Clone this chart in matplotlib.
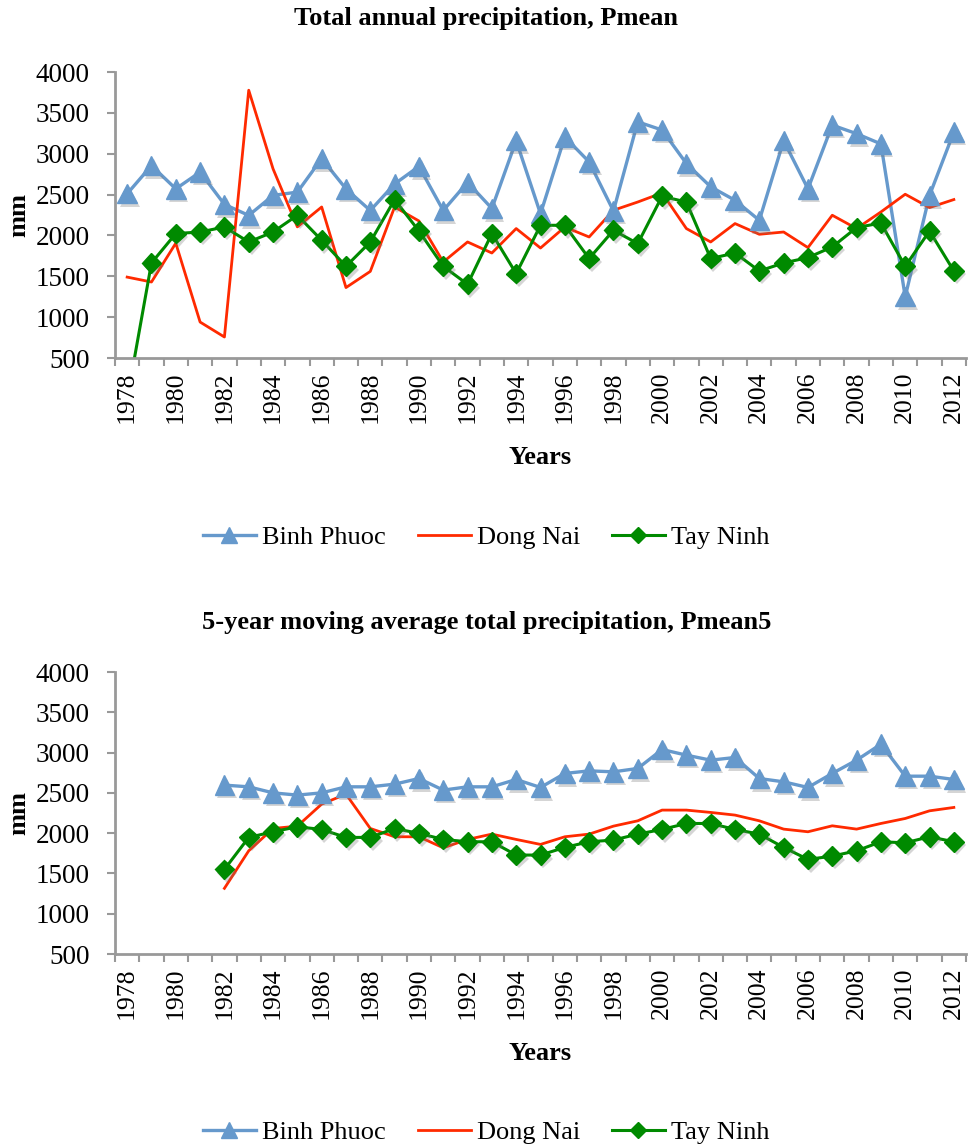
import numpy as np
import matplotlib
matplotlib.use("Agg")
import matplotlib.pyplot as plt
import matplotlib.patheffects as pe
from matplotlib.lines import Line2D

plt.rcParams['font.family'] = ['Liberation Serif', 'DejaVu Serif']

years = list(range(1978, 2013))

# total annual precipitation (mm)
binh_phuoc = [2510, 2855, 2570, 2775, 2380, 2245, 2490, 2530, 2940, 2570,
              2305, 2630, 2845, 2305, 2650, 2330, 3160, 2265, 3205, 2900,
              2300, 3390, 3290, 2880, 2595, 2430, 2185, 3160, 2570, 3350,
              3245, 3120, 1250, 2490, 3265]
dong_nai = [1490, 1430, 1905, 940, 757, 3777, 2815, 2105, 2348, 1362,
            1560, 2348, 2177, 1675, 1920, 1785, 2084, 1846, 2103, 1981,
            2308, 2409, 2520, 2084, 1920, 2145, 2014, 2042, 1851, 2247,
            2084, 2287, 2504, 2341, 2439]
tay_ninh = [0, 1663, 2023, 2042, 2103, 1920, 2042, 2247, 1941, 1622,
            1920, 2439, 2054, 1622, 1402, 2023, 1533, 2124, 2124, 1717,
            2063, 1900, 2479, 2409, 1717, 1785, 1565, 1663, 1729, 1859,
            2096, 2152, 1622, 2054, 1565]

# 5-year moving average (starts 1982)
years5 = list(range(1982, 2013))
binh_phuoc5 = [2596, 2575, 2500, 2472, 2500, 2575, 2575, 2608, 2678, 2534,
               2575, 2575, 2666, 2567, 2741, 2773, 2761, 2803, 3038, 2968,
               2906, 2939, 2678, 2637, 2567, 2741, 2906, 3104, 2707, 2707,
               2666]
dong_nai5 = [1315, 1781, 2058, 2087, 2360, 2484, 2058, 1955, 1955, 1818,
             1922, 1988, 1922, 1860, 1955, 1988, 2087, 2153, 2286, 2286,
             2257, 2224, 2153, 2050, 2017, 2091, 2050, 2120, 2182, 2277,
             2319]
tay_ninh5 = [1550, 1947, 2017, 2079, 2046, 1947, 1947, 2058, 1997, 1922,
             1893, 1893, 1728, 1728, 1823, 1893, 1914, 1988, 2046, 2120,
             2120, 2046, 1988, 1823, 1674, 1715, 1781, 1893, 1880, 1955,
             1893]

names = ['Binh Phuoc', 'Dong Nai', 'Tay Ninh']
titles = ['Total annual precipitation, Pmean',
          '5-year moving average total precipitation, Pmean5']

blue = '#6699cc'
red = '#ff2a00'
green = '#008a00'
grey = '#999999'

W, H = 973, 1146
fig = plt.figure(figsize=(W / 100, H / 100), dpi=100)

def px_axes(x0, y0, x1, y1):
    return fig.add_axes([x0 / W, 1 - y1 / H, (x1 - x0) / W, (y1 - y0) / H])

ax1 = px_axes(115, 72, 966, 358)
ax2 = px_axes(115, 672, 966, 954)

shadow = [pe.SimplePatchShadow(offset=(2, -2.5), shadow_rgbFace='#777777',
                               alpha=0.3), pe.Normal()]

def draw(ax, yrs, bp, dn, tn):
    idx = [years.index(y) for y in yrs]
    ax.plot(idx, bp, color=blue, lw=2.4, zorder=2)
    ax.plot(idx, bp, ls='none', marker='^', ms=14, color=blue, mec=blue,
            path_effects=shadow, zorder=3)
    ax.plot(idx, dn, color=red, lw=2.0, zorder=2)
    ax.plot(idx, tn, color=green, lw=2.2, zorder=2)
    ax.plot(idx, tn, ls='none', marker='D', ms=10, color=green, mec=green,
            path_effects=shadow, zorder=3)
    ax.set_xlim(-0.5, len(years) - 0.5)
    ax.set_ylim(500, 4000)
    ax.set_yticks(np.arange(500, 4001, 500))
    ax.tick_params(axis='y', length=6, width=1.5, color=grey, labelsize=19.5,
                   pad=12)
    # boundaries between categories carry the ticks
    ax.set_xticks(np.arange(-0.5, len(years), 1))
    ax.set_xticklabels([])
    ax.tick_params(axis='x', which='major', length=6, width=1.5, color=grey)
    ax.set_xticks(np.arange(0, len(years), 2), minor=True)
    ax.set_xticklabels([str(y) for y in years[::2]], minor=True,
                       rotation=90, fontsize=18.5)
    ax.tick_params(axis='x', which='minor', length=0, pad=10)
    for s in ['top', 'right']:
        ax.spines[s].set_visible(False)
    for s in ['left', 'bottom']:
        ax.spines[s].set_color(grey)
        ax.spines[s].set_linewidth(2)
    ax.set_ylabel('mm', fontsize=19, fontweight='bold', labelpad=4)
    ax.set_xlabel('Years', fontsize=19, fontweight='bold', labelpad=16)

draw(ax1, years, binh_phuoc, dong_nai, tay_ninh)
draw(ax2, years5, binh_phuoc5, dong_nai5, tay_ninh5)

fig.text(0.5, 1 - 18 / H, titles[0], ha='center', va='center',
         fontsize=19, fontweight='bold')
fig.text(0.5, 1 - 622 / H, titles[1], ha='center', va='center',
         fontsize=19, fontweight='bold')

handles = [Line2D([], [], color=blue, lw=2.4, marker='^', ms=12),
           Line2D([], [], color=red, lw=2.0),
           Line2D([], [], color=green, lw=2.2, marker='D', ms=8)]
for yc in [537, 1132]:
    fig.legend(handles, names, loc='center', bbox_to_anchor=(0.5, 1 - yc / H),
               ncol=3, frameon=False, fontsize=19, handlelength=2.0,
               handletextpad=0.25, columnspacing=1.2)

fig.savefig('out.png', dpi=100)
